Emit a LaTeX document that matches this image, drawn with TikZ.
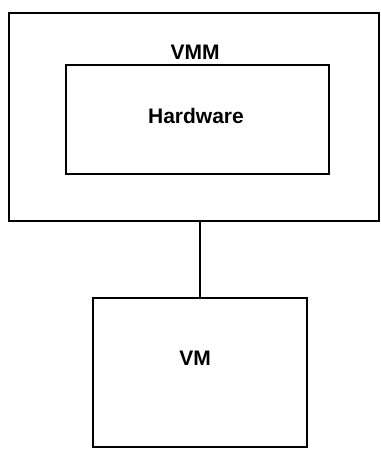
\documentclass[tikz,border=0pt]{standalone}
\usepackage{fontspec}
\setmainfont{Liberation Sans}
\usepackage{tikz}
\usetikzlibrary{positioning}

\begin{document}
\begin{tikzpicture}[x=1pt,y=-1pt,
    caixa/.style={draw=black,line width=1.8pt},
    rotulo/.style={font=\bfseries\fontsize{21}{24}\selectfont}]
        \useasboundingbox (0,0) rectangle (380,452);
        % VMM (caixa externa)
        \draw[caixa] (9,13) rectangle (379,221);
        \node[rotulo] (vmm) at (195,52) {VMM};
        % Hardware
        \draw[caixa] (66,65) rectangle (329,174);
        \node[rotulo] (hw) at (196,116) {Hardware};
        % VM
        \draw[caixa] (93,298) rectangle (307,447);
        \node[rotulo] (vm) at (195,358) {VM};
        % Ligacao
        \coordinate (vmmbase) at (200,221);
        \coordinate (vmtopo) at (200,298);
        \draw[caixa] (vmmbase) -- (vmtopo);
      \end{tikzpicture}
\end{document}
